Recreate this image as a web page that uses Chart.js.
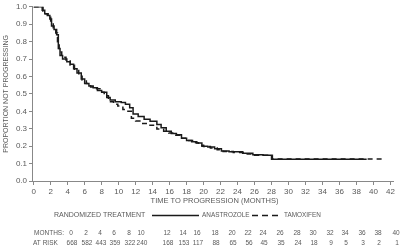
<!DOCTYPE html>
<html>
<head>
<title>Time to progression - Anastrozole vs Tamoxifen</title>
<script src="https://cdn.jsdelivr.net/npm/chart.js"></script>
<style>
  html, body { margin: 0; padding: 0; background: #fff; }
  #wrap { width: 400px; height: 251px; }
</style>
</head>
<body>
<div id="wrap"><canvas id="myChart"></canvas></div>
<script>
// curve data (months, proportion not progressing)
const anastrozoleMonths = [0, 0.7, 1.0, 1.3, 1.6, 1.9, 2.1, 2.4, 2.7, 2.9, 3.1, 3.4, 3.9, 4.3, 4.7, 5.1, 5.6, 6.0, 6.5, 7.0, 7.5, 8.0, 8.6, 9.0, 9.6, 10.3, 10.8, 11.3, 11.7, 12.3, 13.0, 13.7, 14.5, 15.0, 15.6, 16.2, 16.8, 17.4, 18.0, 18.6, 19.2, 19.8, 20.5, 21.3, 22.1, 23.0, 24.6, 25.8, 27.0, 28.0, 39.2];
const anastrozoleProp   = [1.0, 1.0, 0.98, 0.96, 0.95, 0.93, 0.89, 0.87, 0.84, 0.76, 0.72, 0.70, 0.685, 0.67, 0.645, 0.62, 0.585, 0.56, 0.545, 0.535, 0.52, 0.51, 0.48, 0.465, 0.455, 0.45, 0.44, 0.42, 0.385, 0.37, 0.355, 0.343, 0.324, 0.305, 0.285, 0.272, 0.265, 0.245, 0.232, 0.225, 0.218, 0.2, 0.195, 0.185, 0.172, 0.168, 0.16, 0.15, 0.148, 0.125, 0.125];

const tamoxifenMonths = [0, 0.8, 1.1, 1.4, 1.7, 2.0, 2.3, 2.6, 2.8, 3.0, 3.3, 3.8, 4.3, 4.8, 5.3, 5.7, 6.2, 6.7, 7.2, 7.8, 8.3, 8.8, 9.4, 9.9, 10.5, 11.0, 11.5, 12.0, 12.7, 13.5, 14.5, 15.3, 15.9, 16.5, 17.2, 18.0, 18.7, 19.4, 20.0, 20.8, 21.6, 22.3, 23.5, 24.8, 26.0, 28.1, 41.4];
const tamoxifenProp   = [1.0, 1.0, 0.975, 0.96, 0.94, 0.91, 0.88, 0.85, 0.80, 0.74, 0.71, 0.695, 0.665, 0.635, 0.615, 0.58, 0.56, 0.54, 0.53, 0.51, 0.49, 0.455, 0.44, 0.43, 0.41, 0.40, 0.36, 0.345, 0.33, 0.32, 0.298, 0.285, 0.275, 0.262, 0.245, 0.232, 0.22, 0.205, 0.198, 0.19, 0.18, 0.17, 0.163, 0.155, 0.148, 0.127, 0.127];

const xTicks = [0, 2, 4, 6, 8, 10, 12, 14, 16, 18, 20, 22, 24, 26, 28, 30, 32, 34, 36, 38, 40, 42];

// numbers at risk table
const riskMonths = [0, 2, 4, 6, 8, 10, 12, 14, 16, 18, 20, 22, 24, 26, 28, 30, 32, 34, 36, 38, 40];
const atRisk     = [668, 582, 443, 359, 322, 240, 168, 153, 117, 88, 65, 56, 45, 35, 24, 18, 9, 5, 3, 2, 1];
// where the table columns sit in the picture (layout only)
const riskColX   = [71, 86, 100, 114, 129, 141, 167, 183, 197, 215, 232, 248, 263, 280, 297, 313, 330, 345, 362, 378, 396];

const grey = '#5a5a5a';
const lineCol = '#1a1a1a';

function toPoints(xs, ys) {
    return xs.map((x, i) => ({ x: x, y: ys[i] }));
}

// legend, axis title and at-risk table under the plot
const bottomText = {
    id: 'bottomText',
    afterDraw(chart) {
        const c = chart.ctx;
        const area = chart.chartArea;
        c.save();
        c.fillStyle = grey;
        c.textBaseline = 'middle';

        c.font = '7.5px "Liberation Sans", Arial, sans-serif';
        c.textAlign = 'center';
        c.fillText('TIME TO PROGRESSION (MONTHS)', (area.left + area.right) / 2 + 2, 201);

        c.font = '7px "Liberation Sans", Arial, sans-serif';
        c.textAlign = 'left';
        c.fillText('RANDOMIZED TREATMENT', 54, 215.5);
        c.font = '6.4px "Liberation Sans", Arial, sans-serif';
        c.fillText('ANASTROZOLE', 202, 215.5);
        c.fillText('TAMOXIFEN', 284, 215.5);

        c.strokeStyle = lineCol;
        c.lineWidth = 1.6;
        c.beginPath();
        c.moveTo(152, 215.5);
        c.lineTo(199, 215.5);
        c.stroke();
        c.setLineDash([6, 4]);
        c.beginPath();
        c.moveTo(252, 215.5);
        c.lineTo(280, 215.5);
        c.stroke();
        c.setLineDash([]);

        c.font = '6.5px "Liberation Sans", Arial, sans-serif';
        c.fillText('MONTHS:', 34, 233);
        c.fillText('AT RISK', 33, 243.5);
        c.textAlign = 'center';
        riskMonths.forEach((m, i) => {
            c.fillText(String(m), riskColX[i], 233);
            c.fillText(String(atRisk[i]), riskColX[i] + 1, 243.5);
        });
        c.restore();
    }
};

const ctx = document.getElementById('myChart').getContext('2d');

new Chart(ctx, {
    type: 'line',
    data: {
        datasets: [{
            label: 'ANASTROZOLE',
            data: toPoints(anastrozoleMonths, anastrozoleProp),
            borderColor: lineCol,
            borderWidth: 1.5,
            stepped: 'before',
            pointRadius: 0,
            fill: false
        }, {
            label: 'TAMOXIFEN',
            data: toPoints(tamoxifenMonths, tamoxifenProp),
            borderColor: lineCol,
            borderWidth: 1.5,
            borderDash: [5, 4],
            stepped: 'before',
            pointRadius: 0,
            fill: false
        }]
    },
    options: {
        responsive: true,
        maintainAspectRatio: false,
        animation: false,
        layout: { padding: { top: 5, right: 7, left: 2, bottom: 0 } },
        plugins: {
            legend: { display: false },
            tooltip: { enabled: false }
        },
        scales: {
            x: {
                type: 'linear',
                min: -0.2,
                max: 42.3,
                afterBuildTicks(scale) {
                    scale.ticks = xTicks.map(v => ({ value: v }));
                },
                afterFit(scale) { scale.height = 70; },
                border: { color: '#888', width: 1 },
                grid: { drawOnChartArea: false, drawTicks: true, tickLength: 4, color: '#888' },
                ticks: {
                    color: grey,
                    padding: 2,
                    maxRotation: 0,
                    autoSkip: false,
                    font: { family: '"Liberation Sans", Arial, sans-serif', size: 8 },
                    callback: v => String(v)
                }
            },
            y: {
                min: 0,
                max: 1,
                afterFit(scale) { scale.width = 30; },
                border: { color: '#888', width: 1 },
                grid: { drawOnChartArea: false, drawTicks: true, tickLength: 3, color: '#888' },
                ticks: {
                    stepSize: 0.1,
                    color: grey,
                    padding: 2,
                    font: { family: '"Liberation Sans", Arial, sans-serif', size: 8 },
                    callback: v => Number(v).toFixed(1)
                },
                title: {
                    display: true,
                    text: 'PROPORTION NOT PROGRESSING',
                    color: grey,
                    padding: 0,
                    font: { family: '"Liberation Sans", Arial, sans-serif', size: 7 }
                }
            }
        }
    },
    plugins: [bottomText]
});
</script>
</body>
</html>
